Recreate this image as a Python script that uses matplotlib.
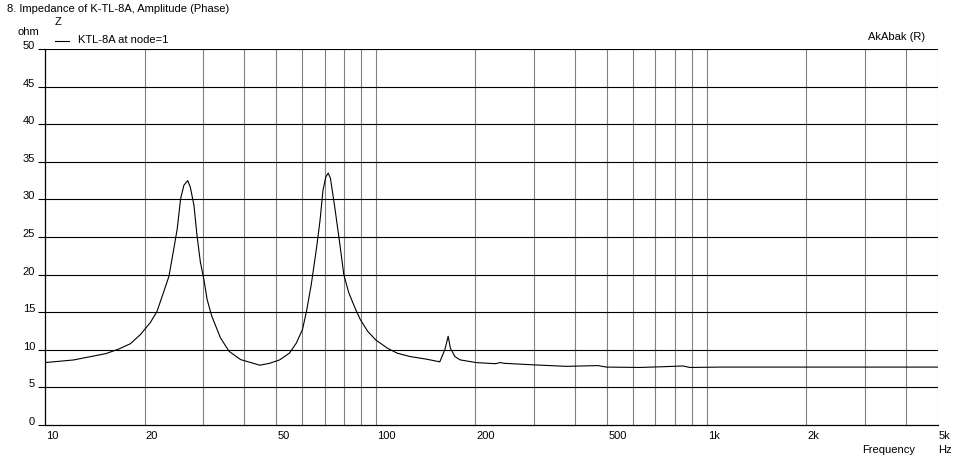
import matplotlib
matplotlib.use('Agg')
import matplotlib.pyplot as plt
from matplotlib.ticker import FixedLocator, NullLocator

# impedance curve (Hz, ohm)
freq = [10, 12.2, 15.3, 16.7, 18.1, 19.4, 20.8, 21.8, 22.8, 23.7, 24.5, 25.1,
        25.7, 26.3, 27.0, 27.5, 28.2, 28.8, 29.5, 30.2, 30.9, 31.9, 33.9, 36.0,
        39.0, 44.6, 47.7, 51.2, 54.8, 57.5, 60.0, 61.7, 63.8, 66.2, 67.8, 69.2,
        70.6, 71.8, 72.9, 75.1, 77.8, 80.0, 82.8, 86.8, 89.8, 94.5, 100, 108.5,
        116, 127, 142.4, 156, 161.6, 165.4, 168, 173.3, 179.7, 201, 230, 237,
        245, 299, 377, 469, 498, 628, 738, 848, 889, 1095, 5000]
imp = [8.3, 8.65, 9.5, 10.1, 10.8, 12.0, 13.6, 15.1, 17.6, 19.8, 23.4, 26.1,
       30.1, 31.9, 32.5, 31.6, 29.2, 25.2, 21.6, 19.4, 16.7, 14.5, 11.6, 9.8,
       8.7, 7.95, 8.2, 8.66, 9.56, 10.9, 12.7, 15.1, 18.7, 23.6, 27.2, 31.2,
       33.0, 33.5, 32.8, 29.0, 24.1, 20.0, 17.6, 15.4, 14.0, 12.45, 11.3, 10.2,
       9.55, 9.1, 8.75, 8.4, 10.0, 11.8, 10.2, 9.1, 8.66, 8.3, 8.15, 8.3,
       8.2, 8.0, 7.8, 7.9, 7.7, 7.65, 7.75, 7.85, 7.65, 7.7, 7.7]

xgrid = [20, 30, 40, 50, 60, 70, 80, 90, 100, 200, 300, 400, 500, 600, 700,
         800, 900, 1000, 2000, 3000, 4000, 5000]
xlabels_pos = [10, 20, 50, 100, 200, 500, 1000, 2000, 5000]
xlabels = ['10', '20', '50', '100', '200', '500', '1k', '2k', '5k']
yticks = [0, 5, 10, 15, 20, 25, 30, 35, 40, 45, 50]

plt.rcParams['font.family'] = ['Liberation Sans', 'DejaVu Sans']
plt.rcParams['font.size'] = 8

W, H = 964, 462
fig = plt.figure(figsize=(W / 100, H / 100), dpi=100)
fig.patch.set_facecolor('white')
ax = fig.add_axes([45 / W, 1 - 425 / H, (938 - 45) / W, (425 - 49) / H])

ax.set_xscale('log')
ax.set_xlim(10, 5000)
ax.set_ylim(0, 50)

# grid lines
for x in xgrid:
    ax.axvline(x, color='#808080', lw=0.8, zorder=1)
for y in yticks[1:]:
    ax.axhline(y, color='black', lw=0.8, zorder=1)

ax.plot(freq, imp, color='black', lw=0.8, zorder=3)

for s in ['top', 'right']:
    ax.spines[s].set_visible(False)
for s in ['left', 'bottom']:
    ax.spines[s].set_linewidth(0.9)

ax.xaxis.set_major_locator(FixedLocator([]))
ax.xaxis.set_minor_locator(NullLocator())
ax.yaxis.set_major_locator(FixedLocator(yticks))
ax.yaxis.set_minor_locator(NullLocator())
ax.set_yticklabels([])
ax.tick_params(axis='y', direction='out', length=5, width=0.8)

# tick labels like the original (x left aligned at tick, y right aligned, slightly raised)
for p, lab in zip(xlabels_pos, xlabels):
    ax.annotate(lab, xy=(p, 0), xycoords='data', xytext=(1, -6),
                textcoords='offset pixels', ha='left', va='top')
for y in yticks:
    ax.annotate(str(y), xy=(10, y), xycoords='data', xytext=(-10, 3),
                textcoords='offset pixels', ha='right', va='center')

# texts
fig.text(7 / W, 1 - 9 / H, '8. Impedance of K-TL-8A, Amplitude (Phase)', ha='left', va='center')
fig.text(55 / W, 1 - 22 / H, 'Z', ha='left', va='center')
fig.text(18 / W, 1 - 32 / H, 'ohm', ha='left', va='center')
fig.add_artist(plt.Line2D([55 / W, 69 / W], [1 - 41 / H, 1 - 41 / H], color='black', lw=0.8))
fig.text(78 / W, 1 - 40 / H, 'KTL-8A at node=1', ha='left', va='center')
fig.text(868 / W, 1 - 37 / H, 'AkAbak (R)', ha='left', va='center')
fig.text(862 / W, 1 - 450 / H, 'Frequency', ha='left', va='center')
fig.text(938 / W, 1 - 450 / H, 'Hz', ha='left', va='center')

fig.savefig('out.png', dpi=100, facecolor='white')
